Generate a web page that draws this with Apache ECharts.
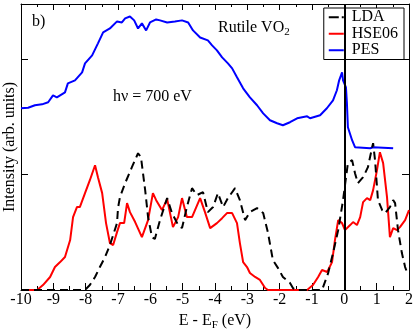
<!DOCTYPE html>
<html>
<head>
<meta charset="utf-8">
<script src="https://cdn.jsdelivr.net/npm/echarts@6/dist/echarts.min.js"></script>
<style>
html,body{margin:0;padding:0;background:#fff;}
#chart{width:415px;height:330px;}
</style>
</head>
<body>
<div id="chart"></div>
<script>
// ---- Data ----
const xTicks = [-10,-9,-8,-7,-6,-5,-4,-3,-2,-1,0,1,2];

const pesE = [-10.00,-9.78,-9.57,-9.35,-9.16,-9.01,-8.89,-8.64,-8.55,-8.33,-8.11,-8.02,-7.80,-7.62,-7.46,-7.25,-7.03,-6.88,-6.78,-6.63,-6.50,-6.38,-6.26,-6.13,-6.01,-5.82,-5.70,-5.48,-5.24,-5.02,-4.83,-4.68,-4.46,-4.22,-4.09,-3.94,-3.78,-3.60,-3.47,-3.32,-3.13,-2.92,-2.70,-2.51,-2.30,-2.08,-1.90,-1.68,-1.46,-1.15,-1.06,-0.75,-0.54,-0.35,-0.23,-0.16,-0.07,-0.04,0.05,0.08,0.11,0.24,0.33,0.80,0.89,1.51];
const pesI = [1.576,1.580,1.602,1.610,1.628,1.688,1.671,1.714,1.792,1.818,1.887,1.965,2.035,2.139,2.234,2.268,2.329,2.320,2.355,2.372,2.338,2.268,2.312,2.251,2.320,2.346,2.338,2.320,2.329,2.338,2.320,2.251,2.190,2.165,2.121,2.078,2.017,1.965,1.922,1.844,1.749,1.671,1.602,1.532,1.472,1.446,1.429,1.455,1.489,1.506,1.489,1.515,1.576,1.645,1.732,1.818,1.887,1.818,1.758,1.619,1.411,1.299,1.238,1.229,1.238,1.229];

const hseE = [-10.00,-9.50,-9.32,-9.10,-8.95,-8.79,-8.64,-8.48,-8.39,-8.27,-8.18,-8.02,-7.87,-7.71,-7.62,-7.49,-7.37,-7.25,-7.15,-7.03,-6.94,-6.81,-6.72,-6.63,-6.47,-6.26,-6.07,-5.92,-5.82,-5.64,-5.48,-5.30,-5.14,-5.02,-4.87,-4.71,-4.46,-4.31,-4.15,-3.94,-3.78,-3.63,-3.47,-3.32,-3.23,-3.13,-3.01,-2.92,-2.76,-2.61,-2.45,-2.36,-1.15,-0.97,-0.81,-0.69,-0.53,-0.38,-0.29,-0.19,-0.07,0.02,0.18,0.27,0.39,0.49,0.58,0.70,0.80,0.89,1.01,1.10,1.20,1.32,1.41,1.51,1.63,1.72,1.88,2.00];
const hseI = [0,0,0.043,0.113,0.199,0.242,0.286,0.433,0.632,0.719,0.719,0.840,0.952,1.082,0.978,0.840,0.580,0.407,0.390,0.502,0.580,0.580,0.753,0.675,0.589,0.459,0.606,0.840,0.779,0.693,0.788,0.545,0.632,0.797,0.632,0.632,0.797,0.675,0.537,0.580,0.623,0.667,0.667,0.580,0.407,0.242,0.199,0.147,0.113,0.087,0.017,0,0,0.043,0.113,0.173,0.156,0.242,0.433,0.606,0.580,0.519,0.563,0.589,0.563,0.632,0.762,0.797,0.779,0.866,1.039,1.195,1.100,0.805,0.459,0.537,0.519,0.545,0.606,0.693];

const ldaE = [-10.00,-8.02,-7.87,-7.71,-7.56,-7.40,-7.25,-7.15,-7.03,-7.00,-6.94,-6.88,-6.78,-6.57,-6.38,-6.29,-6.16,-6.07,-5.95,-5.86,-5.70,-5.48,-5.33,-5.14,-5.02,-4.87,-4.71,-4.56,-4.37,-4.22,-4.06,-3.91,-3.75,-3.60,-3.38,-3.23,-3.07,-2.92,-2.70,-2.51,-2.36,-2.21,-2.05,-1.90,-1.68,-1.59,-1.49,-0.69,-0.50,-0.35,-0.19,-0.04,0.11,0.24,0.33,0.42,0.58,0.73,0.86,0.89,0.95,1.04,1.17,1.26,1.41,1.51,1.57,1.66,1.78,1.88,1.97];
const ldaI = [0,0,0.043,0.113,0.199,0.286,0.390,0.476,0.580,0.710,0.805,0.805,0.926,1.065,1.186,1.152,0.866,0.632,0.459,0.442,0.606,0.797,0.667,0.563,0.537,0.719,0.883,0.823,0.848,0.675,0.719,0.840,0.719,0.797,0.883,0.779,0.606,0.675,0.710,0.667,0.494,0.260,0.190,0.113,0.061,0.017,0,0,0.147,0.320,0.519,0.779,1.100,1.126,1.013,0.926,0.978,1.065,1.238,1.273,1.126,0.779,0.693,0.667,0.719,0.779,0.753,0.519,0.320,0.199,0.130];

const seriesNames = ['LDA','HSE06','PES'];
// ---------------------------------------

function zip(a,b){ return a.map((v,i)=>[v,b[i]]); }

const FONT = 'Liberation Serif';
const chart = echarts.init(document.getElementById('chart'), null, {renderer:'canvas'});

const axisLineStyle = {color:'#000', width:1};
const solidIcon = 'path://M0,0h15v2h-15z';
const dashIcon = 'path://M0,0h10v2h-10z M13,0h2v2h-2z';

const option = {
  animation:false,
  backgroundColor:'#fff',
  textStyle:{fontFamily:FONT},
  grid:{left:21, right:6, top:4, bottom:40, containLabel:false, outerBoundsMode:'none'},
  legend:{
    data:[
      {name:seriesNames[0], icon:dashIcon},
      {name:seriesNames[1], icon:solidIcon},
      {name:seriesNames[2], icon:solidIcon}
    ],
    orient:'vertical',
    right:11, top:8,
    backgroundColor:'#fff',
    borderColor:'#000', borderWidth:1, borderRadius:0,
    padding:[1,6,1,5],
    itemGap:0,
    itemWidth:15, itemHeight:2,
    selectedMode:false,
    textStyle:{fontFamily:FONT, fontSize:16, color:'#000', lineHeight:16.5, padding:[0,0,0,3]}
  },
  xAxis:[{
    type:'value', min:-10, max:2, interval:1,
    name:'E - E{sub|F} (eV)', nameLocation:'middle', nameGap:19,
    nameTextStyle:{fontFamily:FONT, fontSize:16, color:'#000',
      rich:{sub:{fontFamily:FONT, fontSize:11, color:'#000', verticalAlign:'top', padding:[9,0,0,0]}}},
    axisLine:{show:true, onZero:false, lineStyle:axisLineStyle},
    axisTick:{show:true, inside:true, length:7, lineStyle:axisLineStyle},
    minorTick:{show:true, splitNumber:2, length:4, lineStyle:axisLineStyle},
    axisLabel:{show:true, margin:2, fontFamily:FONT, fontSize:16, color:'#000',
      formatter:function(v){ return xTicks.indexOf(v) >= 0 ? String(v) : ''; }},
    splitLine:{show:false}
  },{
    type:'value', position:'top', min:-10, max:2, interval:1,
    axisLine:{show:true, onZero:false, lineStyle:axisLineStyle},
    axisTick:{show:true, inside:true, length:6, lineStyle:axisLineStyle},
    minorTick:{show:true, splitNumber:2, length:3, lineStyle:axisLineStyle},
    axisLabel:{show:false},
    splitLine:{show:false}
  }],
  yAxis:[{
    type:'value', min:0, max:2.48, interval:1,
    name:'Intensity (arb. units)', nameLocation:'middle', nameGap:3,
    nameTextStyle:{fontFamily:FONT, fontSize:16, color:'#000'},
    axisLine:{show:true, onZero:false, lineStyle:axisLineStyle},
    axisTick:{show:true, inside:true, length:7, lineStyle:axisLineStyle},
    axisLabel:{show:false},
    splitLine:{show:false}
  },{
    type:'value', position:'right', min:0, max:2.48, interval:1,
    axisLine:{show:true, onZero:false, lineStyle:axisLineStyle},
    axisTick:{show:true, inside:true, length:7, lineStyle:axisLineStyle},
    axisLabel:{show:false},
    splitLine:{show:false}
  }],
  series:[
    {
      name:'PES', type:'line', symbol:'none', data:zip(pesE,pesI),
      lineStyle:{color:'#0000ff', width:2}, itemStyle:{color:'#0000ff'}, z:3
    },
    {
      name:'HSE06', type:'line', symbol:'none', data:zip(hseE,hseI),
      lineStyle:{color:'#ff0000', width:2}, itemStyle:{color:'#ff0000'}, z:4,
      markLine:{
        silent:true, symbol:['none','none'], label:{show:false},
        lineStyle:{color:'#000', width:2, type:'solid'},
        data:[{xAxis:0}]
      }
    },
    {
      name:'LDA', type:'line', symbol:'none', data:zip(ldaE,ldaI),
      lineStyle:{color:'#000', width:2, type:[8,5]}, itemStyle:{color:'#000'}, z:5
    }
  ],
  graphic:[
    {type:'text', left:32, top:14, style:{text:'b)', font:'16px "Liberation Serif"', fill:'#000'}},
    {type:'text', left:218, top:20, style:{
      text:'Rutile VO{sub|2}', font:'16px "Liberation Serif"', fill:'#000',
      rich:{sub:{fontFamily:FONT, fontSize:11, fill:'#000', verticalAlign:'top', padding:[9,0,0,0]}}
    }},
    {type:'text', left:113, top:89, style:{text:'h\u03bd = 700 eV', font:'16px "Liberation Serif"', fill:'#000'}}
  ]
};
chart.setOption(option);
</script>
</body>
</html>
